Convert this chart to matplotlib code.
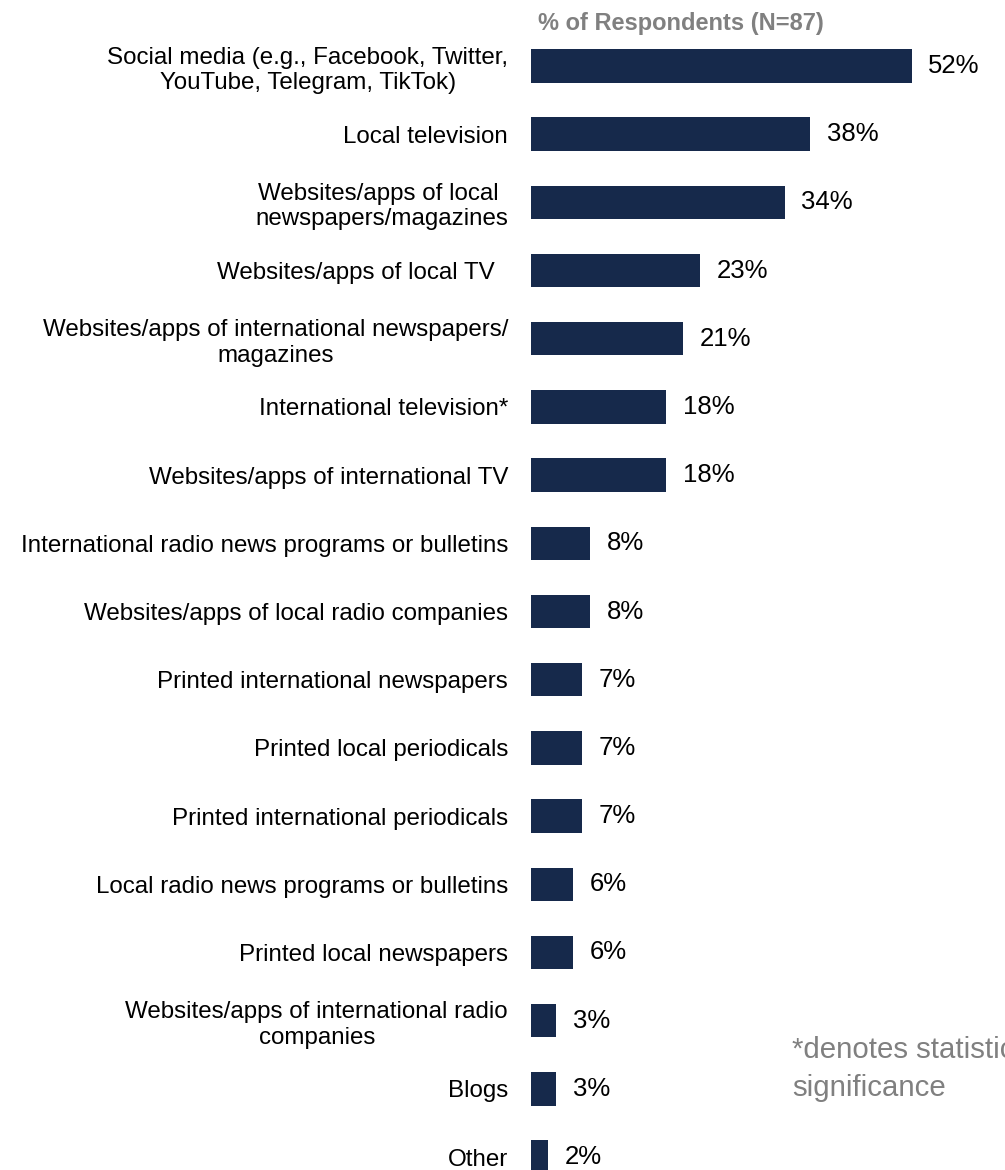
import numpy as np
import matplotlib
matplotlib.use("Agg")
import matplotlib.pyplot as plt

plt.rcParams['font.family'] = ['Liberation Sans', 'DejaVu Sans']

# news sources used, respondent counts out of N=87
categories = [
    "Social media (e.g., Facebook, Twitter,\nYouTube, Telegram, TikTok)",
    "Local television",
    "Websites/apps of local \nnewspapers/magazines",
    "Websites/apps of local TV  ",
    "Websites/apps of international newspapers/\nmagazines",
    "International television*",
    "Websites/apps of international TV",
    "International radio news programs or bulletins",
    "Websites/apps of local radio companies",
    "Printed international newspapers",
    "Printed local periodicals",
    "Printed international periodicals",
    "Local radio news programs or bulletins",
    "Printed local newspapers",
    "Websites/apps of international radio\ncompanies",
    "Blogs",
    "Other",
]
counts = [45, 33, 30, 20, 18, 16, 16, 7, 7, 6, 6, 6, 5, 5, 3, 3, 2]
n_resp = 87

pct = np.array(counts) / n_resp * 100
y = np.arange(len(categories))

BAR = '#16294b'
GREY = '#808080'

fig = plt.figure(figsize=(10.05, 11.7), dpi=100)
ax = fig.add_axes([531 / 1005, 0.0, 441.6 / 1005, 1.0])

ax.barh(y, pct, height=0.49, color=BAR, edgecolor='none')

for yi, v in zip(y, pct):
    ax.annotate(f"{v:.0f}%", xy=(v, yi), xytext=(12, 0), textcoords='offset points',
                ha='left', va='center', fontsize=18.5, color='black')

ax.set_xlim(0, 60)
ax.set_ylim(16.19, -0.968)
ax.set_yticks(y, categories)
ax.tick_params(axis='y', length=0, pad=16.5, labelsize=17.4)
for t in ax.get_yticklabels():
    t.set_multialignment('center')
ax.set_xticks([])
for s in ax.spines.values():
    s.set_visible(False)

fig.text(538 / 1005, 1 - 30 / 1170, f"% of Respondents (N={n_resp})",
         ha='left', va='baseline', fontsize=17, fontweight='bold', color=GREY)

fig.text(792 / 1005, 1 - 1096 / 1170, "*denotes statistical\nsignificance",
         ha='left', va='baseline', fontsize=21.2, color=GREY, linespacing=1.45)

fig.savefig("out.png", dpi=100)
